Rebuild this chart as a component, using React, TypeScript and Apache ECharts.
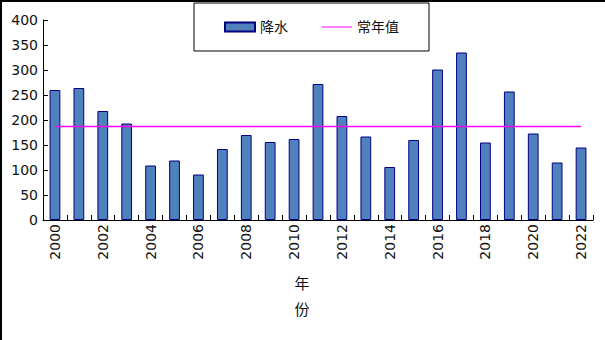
import React, { useEffect, useRef } from "react";
import * as echarts from "echarts";

const years = [
  "2000", "2001", "2002", "2003", "2004", "2005", "2006", "2007", "2008", "2009", "2010", "2011",
  "2012", "2013", "2014", "2015", "2016", "2017", "2018", "2019", "2020", "2021", "2022",
];
const precipitation = [
  260, 264, 218, 193, 109, 119, 91, 142, 170, 156, 162, 272,
  208, 167, 106, 160, 301, 335, 155, 257, 173, 115, 145,
];
const normalValue = 187;
const normalLine = years.map(() => normalValue);
const yTicks = { min: 0, max: 400, interval: 50 };

const FONT = "'DejaVu Sans', 'Noto Sans CJK SC', sans-serif";
const LINE_ICON =
  "path://M0,0L0.01,0L0,0.01Z M0,3.9L30,3.9L30,5.1L0,5.1Z M30,9L29.99,9L30,8.99Z";

export default function App() {
  const ref = useRef<HTMLDivElement>(null);
  useEffect(() => {
    if (!ref.current) return;
    const chart = echarts.init(ref.current, undefined, { renderer: "svg" });
    chart.setOption({
      animation: false,
      backgroundColor: "#ffffff",
      textStyle: { fontFamily: FONT },
      grid: { left: 43, right: 12, top: 20, bottom: 120 },
      legend: {
        left: 194,
        top: 3,
        padding: [17, 30, 17, 30],
        itemGap: 34,
        itemWidth: 30,
        itemHeight: 9,
        borderColor: "#000",
        borderWidth: 1,
        textStyle: { fontSize: 14, color: "#111", fontFamily: FONT },
        data: [
          { name: "降水", icon: "rect" },
          { name: "常年值", icon: LINE_ICON },
        ],
      },
      xAxis: {
        type: "category",
        data: years,
        boundaryGap: true,
        axisLine: { show: true, lineStyle: { color: "#000", width: 1 } },
        axisTick: { show: true, inside: true, length: 5, interval: 0, lineStyle: { color: "#000" } },
        axisLabel: {
          interval: 1,
          rotate: 90,
          margin: 4,
          fontSize: 14,
          color: "#111",
          fontFamily: FONT,
        },
        splitLine: { show: false },
      },
      yAxis: {
        type: "value",
        min: yTicks.min,
        max: yTicks.max,
        interval: yTicks.interval,
        axisLine: { show: true, lineStyle: { color: "#000", width: 1 } },
        axisTick: { show: true, inside: true, length: 5, lineStyle: { color: "#000" } },
        axisLabel: { margin: 5, fontSize: 14, color: "#111", fontFamily: FONT },
        splitLine: { show: false },
      },
      series: [
        {
          name: "降水",
          type: "bar",
          data: precipitation,
          barWidth: "45%",
          itemStyle: { color: "#4F81BD", borderColor: "#000080", borderWidth: 1 },
        },
        {
          name: "常年值",
          type: "line",
          data: normalLine,
          symbol: "none",
          z: 5,
          lineStyle: { color: "#FF00FF", width: 1.5 },
          itemStyle: { color: "#FF00FF" },
        },
      ],
      graphic: [
        { type: "line", shape: { x1: 0, y1: 1, x2: 605, y2: 1 }, style: { stroke: "#000", lineWidth: 2 } },
        { type: "line", shape: { x1: 1, y1: 0, x2: 1, y2: 340 }, style: { stroke: "#000", lineWidth: 2 } },
        {
          type: "text",
          x: 302,
          y: 284,
          style: { text: "年", fontSize: 15, fill: "#111", align: "center", verticalAlign: "middle", fontFamily: FONT },
        },
        {
          type: "text",
          x: 302,
          y: 310,
          style: { text: "份", fontSize: 15, fill: "#111", align: "center", verticalAlign: "middle", fontFamily: FONT },
        },
      ],
    });
    return () => chart.dispose();
  }, []);
  return (
    <div
      ref={ref}
      style={{ position: "fixed", left: 0, top: 0, width: 605, height: 340 }}
    />
  );
}
